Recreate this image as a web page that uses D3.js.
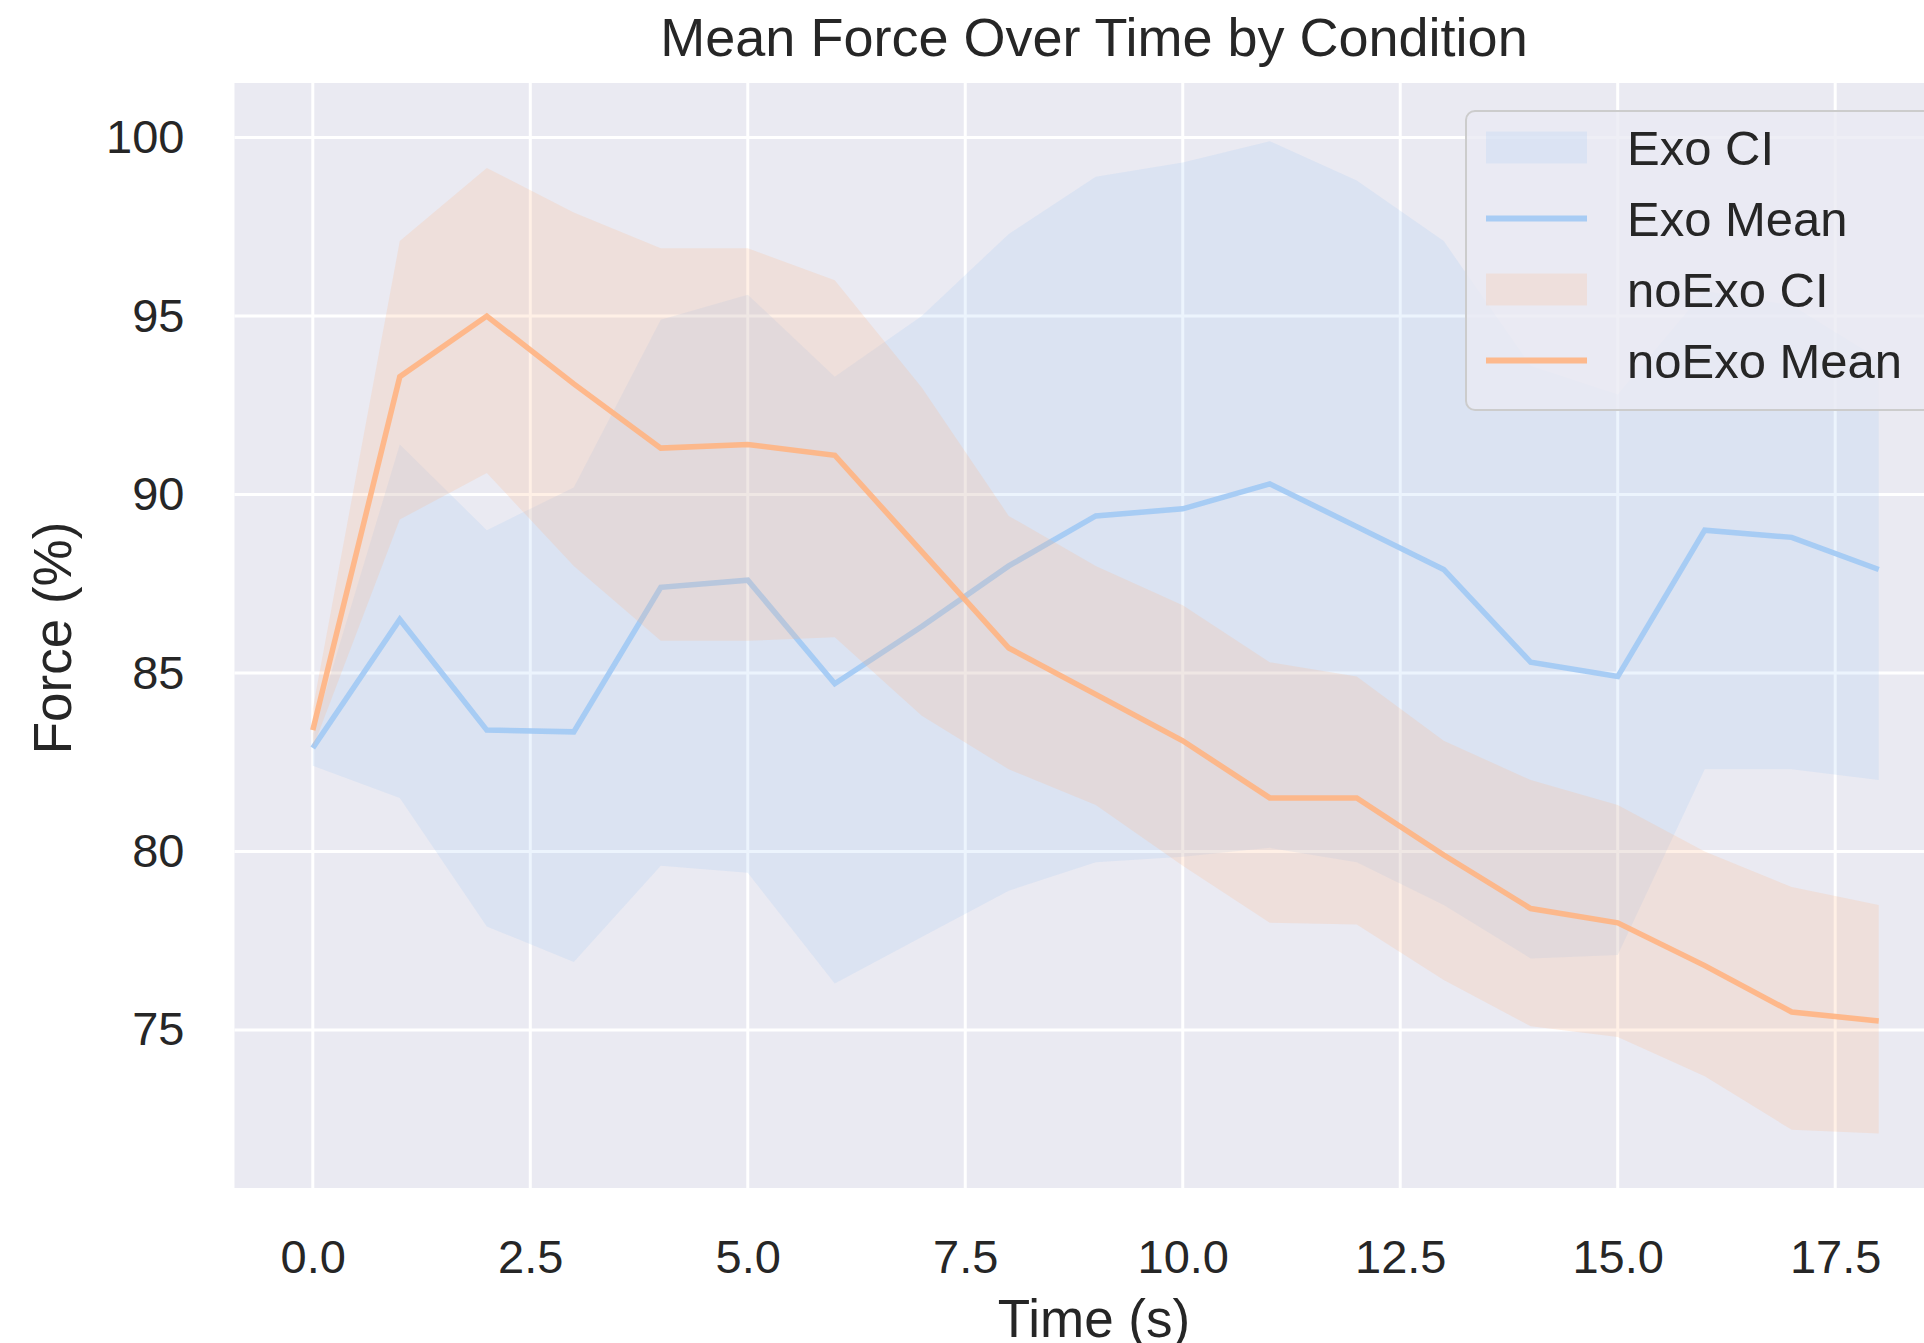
<!DOCTYPE html>
<html>
<head>
	<title>Mean Force Over Time by Condition</title>
	<script src="https://cdn.jsdelivr.net/npm/d3@7"></script>
</head>
<style type="text/css">
	body { margin: 0; background-color: #ffffff; overflow: hidden; }
	text { font-family: "Liberation Sans", Arial, sans-serif; fill: #262626; }
</style>
<body>
</body>
</html>
<script type="text/javascript">
	var width = 1924;
	var height = 1343;

	// time points (s)
	var time = [0, 1, 2, 3, 4, 5, 6, 7, 8, 9, 10, 11, 12, 13, 14, 15, 16, 17, 18];

	var exoMean  = [82.9, 86.5, 83.4, 83.35, 87.4, 87.6, 84.7, 86.3, 88.0, 89.4, 89.6, 90.3, 89.1, 87.9, 85.3, 84.9, 89.0, 88.8, 87.9];
	var exoLower = [82.4, 81.5, 77.9, 76.9, 79.6, 79.4, 76.3, 77.6, 78.9, 79.7, 79.85, 80.1, 79.7, 78.5, 77.0, 77.1, 82.3, 82.3, 82.0];
	var exoUpper = [83.3, 91.4, 89.0, 90.2, 94.9, 95.6, 93.3, 95.0, 97.3, 98.9, 99.3, 99.9, 98.8, 97.1, 93.6, 92.8, 95.7, 95.3, 93.8];

	var noExoMean  = [83.4, 93.3, 95.0, 93.1, 91.3, 91.4, 91.1, 88.4, 85.7, 84.4, 83.1, 81.5, 81.5, 79.9, 78.4, 78.0, 76.8, 75.5, 75.25];
	var noExoLower = [82.9, 89.3, 90.6, 88.0, 85.9, 85.9, 86.0, 83.8, 82.3, 81.3, 79.6, 78.0, 77.95, 76.4, 75.1, 74.8, 73.7, 72.2, 72.1];
	var noExoUpper = [84.0, 97.1, 99.15, 97.9, 96.9, 96.9, 96.0, 93.0, 89.4, 88.0, 86.9, 85.3, 84.9, 83.1, 82.0, 81.3, 80.0, 79.0, 78.5];

	var xTicks = [0, 2.5, 5, 7.5, 10, 12.5, 15, 17.5];
	var yTicks = [75, 80, 85, 90, 95, 100];

	var legendLabels = ["Exo CI", "Exo Mean", "noExo CI", "noExo Mean"];

	var blue = "#a1c9f4";
	var orange = "#ffb482";

	// plot box (matplotlib style, right side runs past the picture)
	var plotL = 234.5, plotR = 1957, plotT = 83, plotB = 1188;

	var x = d3.scaleLinear().domain([-0.9, 18.9]).range([plotL, plotR]);
	var y = d3.scaleLinear().domain([70.57, 101.53]).range([plotB, plotT]);

	var svg = d3.select("body").append("svg").attr("width", width).attr("height", height);

	svg.append("rect")
		.attr("x", plotL).attr("y", plotT)
		.attr("width", plotR - plotL).attr("height", plotB - plotT)
		.attr("fill", "#eaeaf2");

	// grid
	svg.append("g").selectAll("line").data(xTicks).enter().append("line")
		.attr("x1", function(d){return x(d)}).attr("x2", function(d){return x(d)})
		.attr("y1", plotT).attr("y2", plotB)
		.attr("stroke", "#ffffff").attr("stroke-width", 3);
	svg.append("g").selectAll("line").data(yTicks).enter().append("line")
		.attr("x1", plotL).attr("x2", plotR)
		.attr("y1", function(d){return y(d)}).attr("y2", function(d){return y(d)})
		.attr("stroke", "#ffffff").attr("stroke-width", 3);

	var area = function(lo, hi) {
		return d3.area()
			.x(function(d){return x(d)})
			.y0(function(d,i){return y(lo[i])})
			.y1(function(d,i){return y(hi[i])});
	};
	var line = function(vals) {
		return d3.line()
			.x(function(d){return x(d)})
			.y(function(d,i){return y(vals[i])});
	};

	svg.append("path").datum(time).attr("d", area(exoLower, exoUpper))
		.attr("fill", blue).attr("fill-opacity", 0.2);
	svg.append("path").datum(time).attr("d", line(exoMean))
		.attr("fill", "none").attr("stroke", blue).attr("stroke-width", 5.5).attr("stroke-opacity", 0.9);
	svg.append("path").datum(time).attr("d", area(noExoLower, noExoUpper))
		.attr("fill", orange).attr("fill-opacity", 0.2);
	svg.append("path").datum(time).attr("d", line(noExoMean))
		.attr("fill", "none").attr("stroke", orange).attr("stroke-width", 5.5).attr("stroke-opacity", 0.9);

	// axes
	var xAxis = svg.append("g").attr("transform", "translate(0," + plotB + ")")
		.call(d3.axisBottom(x).tickValues(xTicks).tickFormat(d3.format(".1f")).tickSize(0).tickPadding(52));
	var yAxis = svg.append("g").attr("transform", "translate(" + plotL + ",0)")
		.call(d3.axisLeft(y).tickValues(yTicks).tickSize(0).tickPadding(50));
	[xAxis, yAxis].forEach(function(a){
		a.select(".domain").remove();
		a.selectAll("text").attr("font-size", 47).attr("font-family", null).attr("fill", "#262626");
	});

	svg.append("text").attr("x", 1094).attr("y", 56).attr("text-anchor", "middle")
		.attr("font-size", 54).text("Mean Force Over Time by Condition");
	svg.append("text").attr("x", 1094).attr("y", 1337).attr("text-anchor", "middle")
		.attr("font-size", 53).text("Time (s)");
	svg.append("text").attr("transform", "translate(71,638) rotate(-90)").attr("text-anchor", "middle")
		.attr("font-size", 53).text("Force (%)");

	// legend
	var lg = svg.append("g");
	lg.append("rect").attr("x", 1466).attr("y", 111).attr("width", 500).attr("height", 299).attr("rx", 9)
		.attr("fill", "#eaeaf2").attr("fill-opacity", 0.8).attr("stroke", "#cccccc").attr("stroke-width", 2);
	var item = lg.selectAll("g.item").data(legendLabels).enter().append("g")
		.attr("transform", function(d,i){return "translate(0," + (147.5 + i * 71) + ")"});
	item.each(function(d,i){
		var g = d3.select(this);
		var c = i < 2 ? blue : orange;
		if (i % 2 == 0) {
			g.append("rect").attr("x", 1486).attr("y", -16).attr("width", 101).attr("height", 32)
				.attr("fill", c).attr("fill-opacity", 0.2);
		} else {
			g.append("line").attr("x1", 1486).attr("x2", 1587).attr("y1", 0).attr("y2", 0)
				.attr("stroke", c).attr("stroke-width", 6).attr("stroke-opacity", 0.9);
		}
		g.append("text").attr("x", 1627).attr("y", 17).attr("font-size", 49).text(d);
	});
</script>
